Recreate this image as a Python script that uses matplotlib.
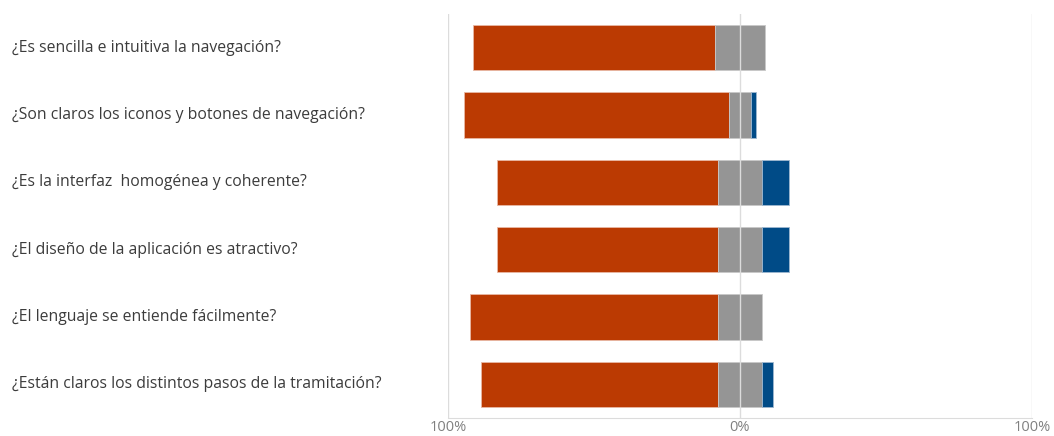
import numpy as np
import matplotlib.pyplot as plt
from matplotlib.transforms import blended_transform_factory

preguntas = [
    '¿Es sencilla e intuitiva la navegación?',
    '¿Son claros los iconos y botones de navegación?',
    '¿Es la interfaz  homogénea y coherente?',
    '¿El diseño de la aplicación es atractivo?',
    '¿El lenguaje se entiende fácilmente?',
    '¿Están claros los distintos pasos de la tramitación?',
]
# porcentajes por respuesta
rojo = [83.0, 90.6, 75.4, 75.4, 84.8, 81.0]
gris = [17.0, 7.8, 15.3, 15.3, 15.3, 15.3]
azul = [0.0, 1.7, 9.3, 9.3, 0.0, 3.7]

ticks = [-100, 0, 100]
tick_labels = ['100%', '0%', '100%']

c_rojo = '#bb3a02'
c_gris = '#959595'
c_azul = '#004b87'


def main():
    plt.rcParams['font.family'] = ['Open Sans', 'DejaVu Sans']

    fig = plt.figure(figsize=(10.54, 4.36), dpi=100)
    ax = fig.add_axes([448 / 1054, 18 / 436, 584 / 1054, 404 / 436])

    y = np.arange(len(preguntas))
    rojo_a = np.array(rojo)
    gris_a = np.array(gris)
    azul_a = np.array(azul)

    # barras divergentes centradas en la mitad de la categoria neutra
    inicio_gris = -gris_a / 2
    inicio_rojo = inicio_gris - rojo_a
    inicio_azul = gris_a / 2

    h = 0.67
    ax.barh(y, rojo_a, left=inicio_rojo, height=h, color=c_rojo,
            edgecolor='#e8b8a4', linewidth=0.6, zorder=2)
    ax.barh(y, gris_a, left=inicio_gris, height=h, color=c_gris,
            edgecolor='#c8c8c8', linewidth=0.6, zorder=2)
    ax.barh(y, azul_a, left=inicio_azul, height=h, color=c_azul,
            edgecolor='#9fb8d0', linewidth=np.where(azul_a > 0, 0.6, 0), zorder=2)

    for t in ticks:
        ax.axvline(t, color='#dcdcdc', linewidth=1.0, zorder=3 if t == 0 else 1)

    ax.set_xlim(-100, 100)
    ax.set_ylim(len(preguntas) - 0.5, -0.5)
    ax.set_xticks(ticks)
    ax.set_xticklabels(tick_labels, color='#808080', fontsize=10.5)
    ax.tick_params(axis='x', length=0, pad=1.5)
    ax.set_yticks([])
    for s in ['top', 'left', 'right']:
        ax.spines[s].set_visible(False)
    ax.spines['bottom'].set_color('#dcdcdc')

    trans = blended_transform_factory(fig.transFigure, ax.transData)
    for i, p in enumerate(preguntas):
        ax.text(12 / 1054, i, p, transform=trans, ha='left', va='center',
                fontsize=11.35, color='#3c3c3c')

    fig.savefig('out.png', dpi=100)


if __name__ == "__main__":
    main()
